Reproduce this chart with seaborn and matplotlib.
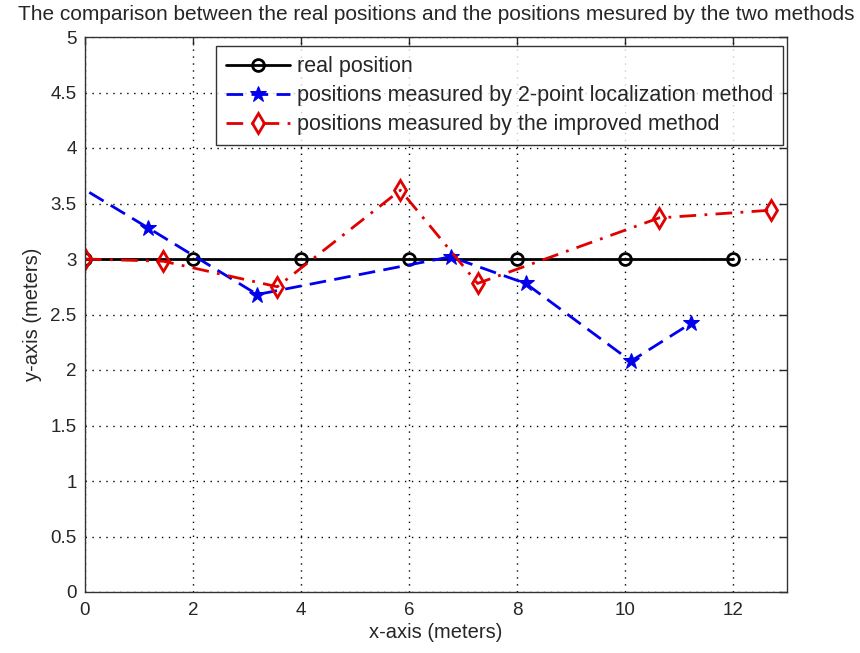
import matplotlib
matplotlib.use("Agg")
import matplotlib.pyplot as plt
import seaborn as sns
import numpy as np

# Data
real_x = [0, 2, 4, 6, 8, 10, 12]
real_y = [3.0, 3.0, 3.0, 3.0, 3.0, 3.0, 3.0]

two_point_x = [0.08, 1.17, 3.19, 6.77, 8.16, 10.11, 11.22]
two_point_y = [3.60, 3.28, 2.68, 3.02, 2.78, 2.08, 2.42]

improved_x = [0.0, 1.45, 3.56, 5.84, 7.27, 10.63, 12.71]
improved_y = [3.00, 2.98, 2.75, 3.62, 2.78, 3.37, 3.44]

x_ticks = [0, 2, 4, 6, 8, 10, 12]
y_ticks = [0, 0.5, 1, 1.5, 2, 2.5, 3, 3.5, 4, 4.5, 5]
y_tick_labels = ["0", "0.5", "1", "1.5", "2", "2.5", "3", "3.5", "4", "4.5", "5"]

labels = ["real position",
          "positions measured by 2-point localization method",
          "positions measured by the improved method"]

sns.set_style("white")
plt.rcParams['font.family'] = ['Liberation Sans', 'DejaVu Sans']

fig = plt.figure(figsize=(8.6, 6.53), dpi=100)
ax = fig.add_axes([85/860, 1-592/653, 702/860, 555/653])

sns.lineplot(x=real_x, y=real_y, ax=ax, sort=False, color='black', lw=2,
             marker='o', markersize=8.5, markerfacecolor='none', markeredgecolor='black',
             markeredgewidth=2, label=labels[0])
sns.lineplot(x=two_point_x, y=two_point_y, ax=ax, sort=False, color='#0000ee', lw=2,
             linestyle=(0, (6, 3)), marker='*', markersize=12, markeredgecolor='#0000ee',
             markevery=slice(1, None), label=labels[1])
sns.lineplot(x=improved_x, y=improved_y, ax=ax, sort=False, color='#e00000', lw=2,
             linestyle=(0, (6, 3, 1, 3)), marker='d', markersize=10, markerfacecolor='none',
             markeredgecolor='#e00000', markeredgewidth=2, label=labels[2])

ax.set_xlim(0, 13)
ax.set_ylim(0, 5)
ax.set_xticks(x_ticks)
ax.set_yticks(y_ticks)
ax.set_yticklabels(y_tick_labels)
ax.tick_params(direction='in', top=True, right=True, labelsize=13.5, length=6, width=1)
ax.tick_params(axis='x', pad=7)
ax.tick_params(axis='y', pad=6)
ax.grid(True, color='black', linestyle=(0, (1, 4)), linewidth=1)
for s in ax.spines.values():
    s.set_color('#333333')
    s.set_linewidth(1)

ax.set_xlabel("x-axis (meters)", fontsize=14.5, labelpad=3)
ax.set_ylabel("y-axis (meters)", fontsize=14.5, labelpad=6)
ax.set_title("The comparison between the real positions and the positions mesured by the two methods",
             fontsize=15, pad=12)

leg = ax.legend(loc='upper right', bbox_to_anchor=(0.994, 0.983), fontsize=15.5,
                frameon=True, fancybox=False, edgecolor='black', handlelength=3.0,
                borderpad=0.45, labelspacing=0.38, handletextpad=0.3, borderaxespad=0)
leg.get_frame().set_linewidth(1)

fig.savefig("out.png", dpi=100, facecolor='white')
